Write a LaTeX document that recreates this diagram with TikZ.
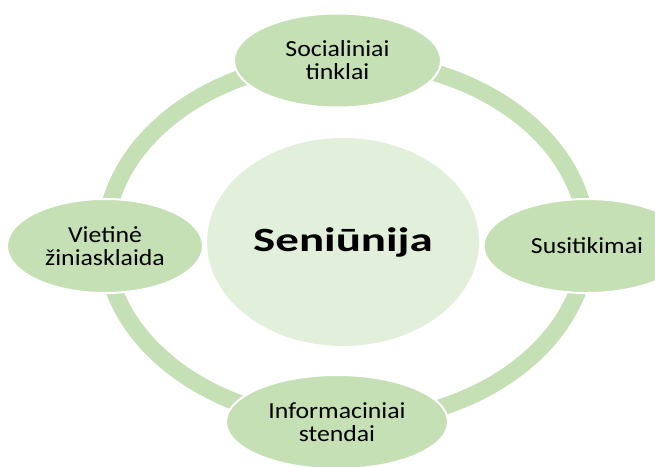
\documentclass[tikz,border=0pt]{standalone}
\usepackage{fontspec}
\usepackage{tikz}
\usetikzlibrary{shapes.geometric}
\newfontfamily\lblfont[FakeStretch=1.12]{Carlito}
\newfontfamily\hubfont[FakeStretch=1.38]{Carlito}
\definecolor{leafgreen}{HTML}{C5E0B4}
\definecolor{hubgreen}{HTML}{E2EFDA}
\tikzset{
  leaf/.style={ellipse, fill=leafgreen, draw=white, line width=2pt, inner sep=0pt,
    minimum width=207pt, minimum height=94pt, align=center,
    font=\fontsize{23}{23}\selectfont\lblfont},
  hub/.style={ellipse, fill=hubgreen, inner sep=0pt, minimum width=272pt, minimum height=208pt,
    font=\fontsize{34}{36}\selectfont\hubfont\bfseries},
  ring/.style={draw=leafgreen, line width=17pt}
}
\begin{document}
\begin{tikzpicture}[x=1pt,y=-1pt]
	\useasboundingbox (0,0) rectangle (655,466);
	% ring behind the four outer nodes
	\coordinate (mid) at (346,241);
	\draw[ring] (mid) ellipse [x radius=241, y radius=181];
	\node[hub] (hub) at (343,242) {Seniūnija};
	\node[leaf] (top) at (337.5,60.5) {Socialiniai\\tinklai};
	\node[leaf] (right) at (587,246) {Susitikimai};
	\node[leaf, minimum width=222pt] (bottom) at (337,422) {Informaciniai\\stendai};
	\node[leaf, minimum width=196pt] (left) at (105,246) {Vietinė\\žiniasklaida};
\end{tikzpicture}
\end{document}
